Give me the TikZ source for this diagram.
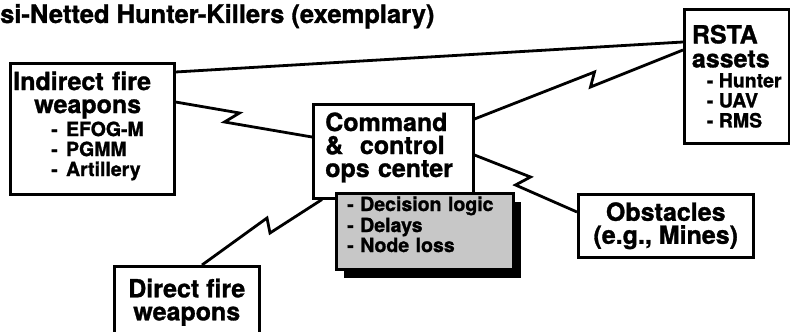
\documentclass[tikz,border=0pt]{standalone}
\usepackage{fontspec}
\setmainfont{TeX Gyre Heros}[BoldFeatures={FakeBold=1.2}]
\usetikzlibrary{calc}
\usetikzlibrary{positioning}
\usetikzlibrary{shadows}

\newcommand{\bigtext}{\fontsize{25}{23}\selectfont\bfseries}
\newcommand{\listtext}{\fontsize{19.5}{20}\selectfont\bfseries}
\newcommand{\titletext}{\fontsize{25.5}{28}\selectfont\bfseries}
\newcommand{\lift}[1]{\rule[-#1]{0pt}{#1}}

\tikzset{
  box/.style={draw, line width=2.5pt, fill=white, anchor=north west, font=\bigtext, inner ysep=0pt},
  link/.style={line width=2.8pt, line join=miter, miter limit=3},
}

\begin{document}
\begin{tikzpicture}[x=1pt, y=-1pt]

  \useasboundingbox (0,0) rectangle (790,332);
  \clip (0,0) rectangle (790,332);

  \node [font=\titletext, anchor=base west, inner sep=0pt] (title) at (0,23) {si-Netted Hunter-Killers (exemplary)};

  % shooters and sensors
  \node [box, minimum width=164pt, minimum height=131pt, text width=158pt, inner xsep=3pt, align=left] (indirect) at (9,62)
    {Indirect~fire\\
     \hspace*{21pt}weapons\\
     {\listtext\hspace*{38pt}\mbox{- EFOG-M}}\\[-3pt]
     {\listtext\hspace*{38pt}\mbox{- PGMM}}\\[-3pt]
     {\listtext\hspace*{38pt}\mbox{- Artillery}\lift{10pt}}};
  \node [box, minimum width=105pt, minimum height=134pt, inner xsep=6pt, align=left] (rsta) at (683,8)
    {RSTA\\[1pt]
     assets\\[-3pt]
     {\listtext\hspace*{15pt}\mbox{- Hunter}}\\[-3pt]
     {\listtext\hspace*{15pt}\mbox{- UAV}}\\[-3pt]
     {\listtext\hspace*{15pt}\mbox{- RMS}}};
  \node [box, minimum width=145pt, minimum height=72pt, align=center] (direct) at (113,265) {Direct fire\\ weapons};
  \node [box, minimum width=175pt, minimum height=63pt, align=center] (obstacles) at (577,193) {Obstacles\\ (e.g., Mines)};

  % C2 node
  \node [box, minimum width=160pt, minimum height=94pt, text width=136pt, inner xsep=11pt, align=left] (command) at (312,103)
    {Command\\ \&\ \ control\\ ops center\lift{13pt}};
  \node [box, fill=black!22, minimum width=177pt, minimum height=76pt, text width=155pt, inner xsep=11pt, align=left, font=\listtext,
         drop shadow={shadow xshift=8pt, shadow yshift=-9pt, opacity=1, fill=black}] (logic) at (335,192)
    {\mbox{- Decision logic}\\[1pt] \mbox{- Delays}\\ \mbox{- Node loss}\lift{14pt}};

  % links
  \draw [link] ([yshift=-10pt]indirect.north east) -- ([yshift=-34pt]rsta.north west);
  \draw [link] ([yshift=-40pt]indirect.north east) -- ++(64,11) -- ++(-15,9) -- ([yshift=-34pt]command.north west);
  \draw [link] ([yshift=-16pt]command.north east) -- ++(120,-47) -- ++(-4,15) -- ([yshift=-42pt]rsta.north west);
  \draw [link] ([yshift=-52pt]command.north east) -- ++(56,22) -- ++(-15,8) -- ([yshift=-19pt]obstacles.north west);
  \draw [link] ([xshift=89pt]direct.north west) -- ++(65,-47) -- ++(3,15) -- ([xshift=10pt]command.south west);

\end{tikzpicture}
\end{document}
